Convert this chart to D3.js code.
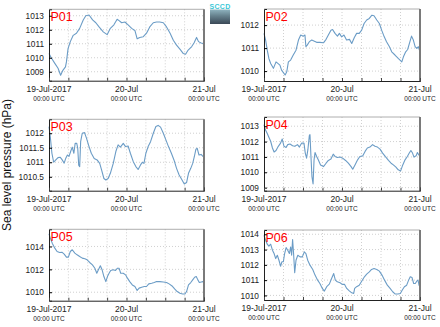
<!DOCTYPE html>
<html><head><meta charset="utf-8">
<script src="https://cdn.jsdelivr.net/npm/d3@7"></script>
<style>
html,body{margin:0;padding:0;background:#fff;}
svg{display:block;font-family:"Liberation Sans",Arial,sans-serif;}
</style></head>
<body><svg id="c" width="440" height="327"></svg>
<script>
// ---- data: [hours since 19-Jul-2017 00:00 UTC, hPa] ----
const stations = ["P01","P02","P03","P04","P05","P06"];
const p01 = [[0,1010.3],[0.7,1010.0],[1.8,1009.6],[2.8,1009.25],[3.6,1008.75],[4.3,1009.1],[5.1,1009.35],[5.4,1009.7],[5.9,1010.65],[6.6,1011.15],[7.5,1011.6],[8.5,1011.75],[9.5,1012.1],[10.6,1012.7],[11.4,1013.0],[12.4,1013.05],[13.5,1012.7],[14.5,1012.5],[15.5,1012.2],[16.8,1011.85],[18.0,1011.65],[19.0,1012.1],[20.1,1012.35],[21.1,1012.75],[21.7,1012.65],[22.5,1012.5],[23.5,1012.55],[24.5,1012.35],[25.6,1012.1],[26.6,1011.95],[27.3,1011.35],[28.1,1011.45],[29.2,1011.5],[30.2,1011.75],[31.2,1012.2],[32.3,1012.5],[33.3,1012.55],[34.3,1012.55],[35.4,1012.5],[36.4,1012.2],[37.5,1011.75],[38.5,1011.25],[39.5,1010.9],[40.6,1010.6],[41.6,1010.3],[42.3,1010.25],[43.1,1010.55],[44.2,1010.8],[44.9,1011.05],[45.7,1011.45],[46.3,1011.15],[47.1,1011.05],[48,1011.0]];
const p02 = [[0,1011.64],[0.5,1011.35],[1.0,1010.91],[1.5,1010.55],[2.05,1010.33],[2.9,1010.12],[3.7,1010.4],[4.9,1010.26],[5.4,1010.04],[6.5,1009.83],[7.0,1009.97],[7.5,1010.4],[8.2,1010.48],[9.0,1010.7],[9.85,1010.91],[10.6,1011.35],[11.3,1011.57],[12.1,1011.52],[12.6,1011.57],[12.9,1011.06],[13.3,1011.13],[13.95,1011.28],[14.7,1011.35],[15.5,1011.3],[16.2,1011.25],[17.2,1011.25],[18.3,1011.23],[19.1,1011.38],[19.8,1011.57],[20.6,1011.78],[21.1,1011.81],[21.85,1011.64],[22.6,1011.52],[23.2,1011.64],[23.9,1011.49],[24.6,1011.57],[25.4,1011.35],[26.3,1011.38],[27.0,1011.2],[27.8,1011.46],[28.5,1011.64],[29.3,1011.64],[30.05,1011.78],[30.8,1012.07],[31.6,1012.22],[32.4,1012.29],[33.2,1012.43],[33.85,1012.41],[34.7,1012.22],[35.5,1012.07],[36.2,1011.78],[37.0,1011.49],[37.7,1011.28],[38.6,1011.06],[39.3,1010.84],[40.3,1010.7],[41.3,1010.55],[42.4,1010.4],[42.9,1010.62],[43.6,1010.84],[44.2,1010.94],[44.9,1011.28],[45.4,1011.52],[45.95,1011.35],[46.5,1011.06],[47.0,1010.99],[47.5,1011.06],[48,1010.84]];
const p03 = [[0,1012.23],[0.4,1011.88],[0.9,1011.31],[1.45,1011.0],[2.1,1011.08],[2.8,1011.16],[3.5,1011.17],[4.1,1011.08],[4.7,1010.97],[5.2,1011.14],[5.7,1011.25],[6.2,1011.2],[6.7,1011.37],[7.2,1011.52],[7.7,1011.31],[8.1,1011.65],[8.6,1011.65],[8.9,1011.48],[9.2,1010.9],[9.5,1010.85],[9.8,1011.71],[10.3,1012.0],[11.0,1012.02],[11.6,1011.83],[12.4,1011.54],[13.1,1011.31],[14.0,1011.13],[14.9,1011.08],[15.7,1010.96],[16.3,1010.73],[17.0,1010.44],[17.6,1010.39],[18.3,1010.44],[19.0,1010.62],[19.9,1010.96],[20.7,1011.37],[21.4,1011.6],[22.1,1011.52],[23.0,1011.65],[23.7,1011.54],[24.5,1011.56],[25.2,1011.31],[26.1,1011.02],[26.9,1010.85],[27.6,1010.75],[28.3,1010.9],[28.9,1011.0],[29.4,1010.96],[30.0,1011.31],[30.7,1011.54],[31.45,1011.71],[32.3,1012.0],[33.1,1012.23],[33.8,1012.27],[34.55,1012.21],[35.4,1012.0],[36.2,1011.77],[37.0,1011.54],[37.9,1011.31],[38.7,1011.08],[39.5,1010.79],[40.3,1010.56],[41.2,1010.39],[41.9,1010.25],[42.6,1010.3],[43.2,1010.62],[43.9,1010.79],[44.5,1010.96],[45.0,1011.19],[45.5,1011.45],[45.9,1011.48],[46.45,1011.25],[47.1,1011.27],[47.6,1011.21],[48,1011.19]];
const p04 = [[0,1013.1],[0.4,1012.78],[1.0,1012.52],[1.6,1012.23],[2.05,1012.02],[2.6,1011.58],[3.1,1011.32],[3.7,1011.42],[4.4,1011.69],[5.1,1011.9],[5.6,1012.17],[6.15,1011.69],[6.8,1011.62],[7.3,1011.8],[8.0,1011.84],[8.8,1011.73],[9.5,1011.69],[10.3,1011.8],[10.9,1011.64],[11.6,1011.9],[12.3,1011.9],[12.7,1011.25],[13.1,1010.92],[13.5,1011.47],[13.95,1012.39],[14.15,1012.45],[14.45,1011.03],[14.75,1009.72],[15.1,1009.24],[15.4,1010.81],[15.7,1011.29],[16.2,1011.03],[16.7,1010.81],[17.4,1010.48],[18.3,1010.37],[19.1,1010.59],[19.8,1010.77],[20.6,1010.86],[21.3,1011.18],[21.85,1011.03],[22.6,1010.96],[23.4,1010.99],[24.2,1010.92],[25.1,1010.77],[25.95,1010.59],[26.8,1010.37],[27.3,1010.2],[28.0,1010.48],[28.8,1010.81],[29.5,1011.03],[30.4,1011.07],[31.1,1011.36],[31.8,1011.58],[32.6,1011.64],[33.4,1011.8],[34.15,1011.69],[34.9,1011.64],[35.7,1011.51],[36.5,1011.25],[37.3,1011.03],[38.3,1010.77],[39.1,1010.59],[39.8,1010.48],[40.6,1010.33],[41.3,1010.16],[42.05,1010.09],[42.7,1010.48],[43.4,1010.81],[44.1,1011.03],[44.7,1011.25],[45.2,1011.42],[45.7,1011.25],[46.15,1010.99],[46.8,1011.07],[47.2,1011.29],[47.6,1011.14],[48,1011.03]];
const p05 = [[0,1015.11],[0.4,1014.73],[1.0,1014.29],[1.8,1013.85],[2.5,1013.56],[3.3,1013.47],[4.0,1013.5],[4.7,1013.33],[5.4,1013.07],[6.0,1013.07],[6.6,1013.56],[7.2,1013.71],[8.0,1013.42],[8.7,1013.27],[9.5,1013.12],[10.3,1012.98],[11.1,1012.92],[11.8,1012.83],[12.6,1012.6],[13.45,1012.39],[14.2,1012.1],[14.8,1011.66],[15.3,1011.96],[15.9,1012.31],[16.45,1011.96],[17.0,1011.37],[17.6,1010.93],[18.1,1011.37],[18.6,1011.66],[19.1,1011.9],[19.9,1011.96],[20.6,1011.9],[21.2,1012.1],[21.7,1012.1],[22.2,1011.66],[23.0,1011.66],[23.7,1011.52],[24.3,1011.23],[25.0,1010.93],[25.8,1010.64],[26.6,1010.5],[27.3,1010.15],[27.9,1010.36],[28.7,1010.44],[29.5,1010.5],[30.2,1010.5],[30.9,1010.73],[31.8,1010.79],[32.6,1010.85],[33.3,1010.93],[34.3,1010.93],[35.4,1010.9],[36.4,1010.85],[37.2,1010.73],[38.1,1010.55],[38.9,1010.29],[39.7,1010.06],[40.55,1009.91],[41.4,1009.85],[42.1,1009.85],[42.6,1010.06],[43.2,1010.64],[43.9,1010.85],[44.5,1011.08],[45.1,1011.31],[45.6,1011.37],[46.1,1011.08],[46.55,1010.85],[47.2,1010.9],[47.6,1010.93],[48,1010.79]];
const p06 = [[0,1013.93],[0.5,1013.61],[1.0,1013.35],[1.5,1013.22],[2.05,1013.35],[2.6,1012.96],[3.1,1012.74],[3.6,1012.41],[4.1,1012.63],[4.6,1012.3],[5.1,1011.91],[5.5,1012.2],[5.95,1012.2],[6.35,1012.74],[6.8,1013.13],[7.3,1012.96],[7.8,1012.74],[8.2,1013.17],[8.5,1012.63],[8.8,1013.65],[9.1,1012.74],[9.45,1011.48],[9.85,1012.3],[10.4,1012.63],[11.1,1012.52],[11.8,1012.52],[12.4,1012.85],[12.9,1012.74],[13.45,1012.3],[14.15,1011.98],[15.0,1011.7],[15.7,1011.33],[16.5,1011.0],[17.2,1010.78],[17.95,1010.46],[18.55,1010.28],[19.3,1010.57],[20.1,1010.74],[20.8,1011.11],[21.45,1011.43],[21.95,1011.0],[22.55,1010.89],[23.4,1010.83],[24.1,1010.72],[24.8,1010.72],[25.45,1010.46],[26.25,1010.3],[27.0,1010.17],[27.6,1010.13],[27.9,1010.46],[28.5,1010.57],[29.3,1010.67],[30.05,1010.93],[30.9,1011.22],[31.6,1011.39],[32.4,1011.54],[33.1,1011.7],[33.85,1011.76],[34.7,1011.7],[35.5,1011.59],[36.3,1011.33],[37.1,1011.0],[37.95,1010.67],[38.8,1010.46],[39.6,1010.24],[40.4,1010.09],[41.2,1010.09],[41.95,1010.13],[42.55,1010.35],[43.2,1010.57],[43.9,1010.67],[44.5,1011.0],[45.0,1011.22],[45.55,1011.17],[46.05,1010.78],[46.55,1010.78],[47.1,1010.96],[47.4,1011.0],[47.7,1010.67],[48,1010.57]];
const series = [p01,p02,p03,p04,p05,p06];

const yTicks = [
  [1009,1010,1011,1012,1013],
  [1010,1011,1012],
  [1010.5,1011,1011.5,1012],
  [1009,1010,1011,1012,1013],
  [1010,1012,1014],
  [1010,1011,1012,1013,1014]
];
const yDomains = [
  [1008.36,1013.46],
  [1009.57,1012.7],
  [1010.02,1012.48],
  [1008.8,1013.6],
  [1009.26,1015.5],
  [1009.7,1014.28]
];
const xTickDates = ["2017-07-19T00:00:00Z","2017-07-20T00:00:00Z","2017-07-21T00:00:00Z"];
const xTickDateLabels = ["19-Jul-2017","20-Jul","21-Jul"];
const xTickTimeLabels = ["00:00 UTC","00:00 UTC","00:00 UTC"];
const yTitle = "Sea level pressure (hPa)";
const logoText = "SCCD";

// ---- layout ----
const frames = [
  {x0:49,x1:204,y0:9.3,y1:80.7},
  {x0:264,x1:420,y0:9,y1:81},
  {x0:49,x1:204,y0:119.3,y1:190.7},
  {x0:264,x1:420,y0:117,y1:190.7},
  {x0:49,x1:204,y0:229.3,y1:300.7},
  {x0:264,x1:420,y0:230,y1:300}
];

const svg = d3.select("#c");
const t0 = new Date(xTickDates[0]);
const t1 = new Date(xTickDates[2]);
const toDate = h => new Date(t0.getTime() + h*3600e3);

const defs = svg.append("defs");
const grad = defs.append("linearGradient").attr("id","lg").attr("x1",0).attr("y1",0).attr("x2",0).attr("y2",1);
grad.append("stop").attr("offset","0%").attr("stop-color","#8fb3bf");
grad.append("stop").attr("offset","45%").attr("stop-color","#65808c");
grad.append("stop").attr("offset","100%").attr("stop-color","#3a4856");

stations.forEach((name,i)=>{
  const f = frames[i];
  const x = d3.scaleUtc().domain([t0,t1]).range([f.x0,f.x1]);
  const y = d3.scaleLinear().domain(yDomains[i]).range([f.y1,f.y0]);
  const g = svg.append("g");
  const gridHours = d3.utcHour.every(6).range(t0, d3.utcHour.offset(t1,1));
  // vertical grid
  g.selectAll(".vg").data(gridHours.filter(d=>d>t0 && d<t1)).join("line")
    .attr("x1",d=>x(d)).attr("x2",d=>x(d)).attr("y1",f.y0).attr("y2",f.y1)
    .attr("stroke","#c4c4c4").attr("stroke-width",0.8).attr("stroke-dasharray","1,2");
  // horizontal grid
  g.selectAll(".hg").data(yTicks[i]).join("line")
    .attr("x1",f.x0).attr("x2",f.x1).attr("y1",d=>y(d)).attr("y2",d=>y(d))
    .attr("stroke","#c4c4c4").attr("stroke-width",0.8).attr("stroke-dasharray","1,2");
  // line
  const line = d3.line().x(d=>x(toDate(d[0]))).y(d=>y(d[1]));
  g.append("path").datum(series[i]).attr("d",line)
    .attr("fill","none").attr("stroke","#6b9cc6").attr("stroke-width",1.1).attr("stroke-linejoin","round");
  // frame: top grey, right thick grey
  g.append("line").attr("x1",f.x0).attr("x2",f.x1).attr("y1",f.y0).attr("y2",f.y0)
    .attr("stroke","#9a9a9a").attr("stroke-width",0.8);
  g.append("line").attr("x1",f.x1).attr("x2",f.x1).attr("y1",f.y0).attr("y2",f.y1+0.5)
    .attr("stroke","#7a7a7a").attr("stroke-width",2);
  // axes
  const ya = d3.axisLeft(y).tickValues(yTicks[i]).tickSize(-3).tickPadding(5).tickFormat(d3.format("~f"));
  const gy = g.append("g").attr("transform",`translate(${f.x0},0)`).call(ya);
  gy.select(".domain").attr("stroke","#222").attr("stroke-width",1);
  gy.selectAll("text").attr("font-size",8.3).attr("fill","#222").attr("font-family","Liberation Sans, Arial, sans-serif");
  const xa = d3.axisBottom(x).tickValues(gridHours).tickSize(-3).tickFormat("");
  const gx = g.append("g").attr("transform",`translate(0,${f.y1})`).call(xa);
  gx.select(".domain").attr("stroke","#222").attr("stroke-width",1);
  gx.selectAll(".tick line").attr("stroke","#444");
  // x labels
  xTickDates.forEach((ds,k)=>{
    const xp = x(new Date(ds));
    g.append("text").attr("x",xp).attr("y",f.y1+11.2).attr("text-anchor","middle")
      .attr("font-size",8.5).attr("fill","#222").text(xTickDateLabels[k]);
    g.append("text").attr("x",xp).attr("y",f.y1+20.2).attr("text-anchor","middle")
      .attr("font-size",6.5).attr("fill","#222").text(xTickTimeLabels[k]);
  });
  // station label
  g.append("text").attr("x",f.x0+1.5).attr("y",f.y0+11.5)
    .attr("font-size",12.5).attr("fill","#ff0000").text(name);
});

// y title
svg.append("text").attr("transform","translate(10.5,165) rotate(-90)")
  .attr("text-anchor","middle").attr("font-size",12).attr("fill","#111").text(yTitle);

// logo
svg.append("rect").attr("x",210).attr("y",9.5).attr("width",20).attr("height",14.5).attr("fill","url(#lg)");
svg.append("text").attr("x",220).attr("y",9).attr("text-anchor","middle")
  .attr("font-size",7).attr("font-weight","bold").attr("fill","#3cc8d8").attr("letter-spacing",0.3).text(logoText);
</script></body></html>
